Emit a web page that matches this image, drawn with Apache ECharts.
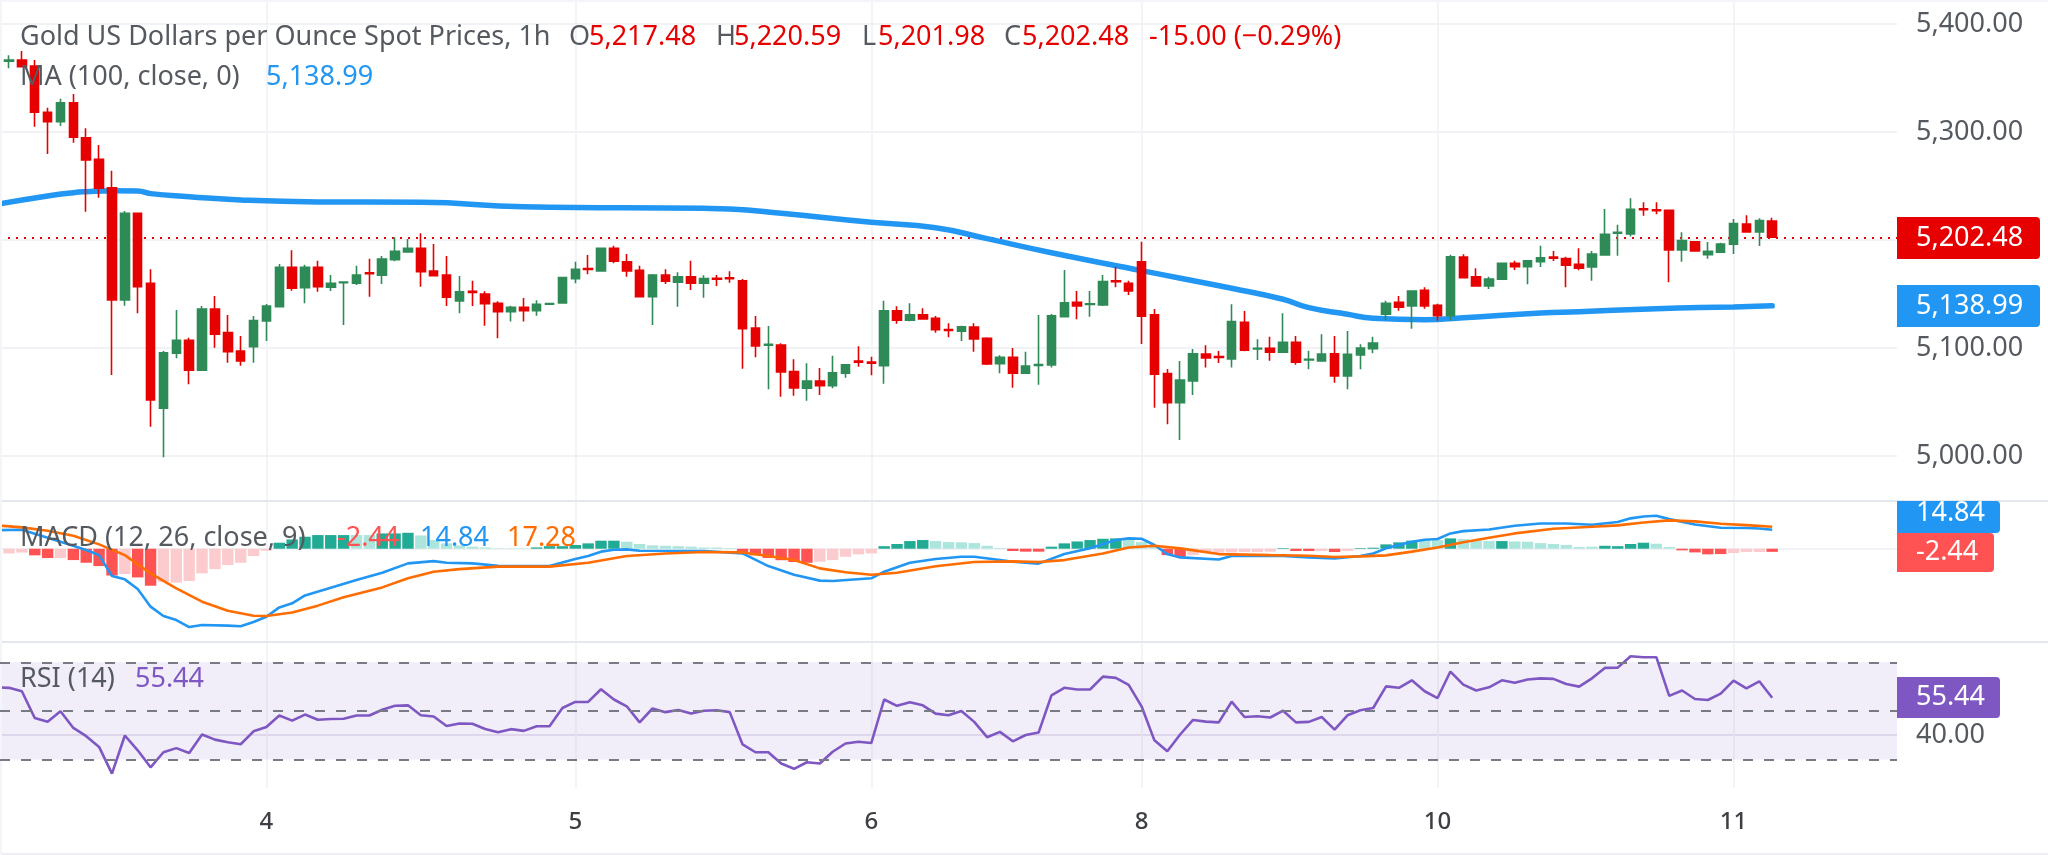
<!DOCTYPE html>
<html>
<head>
<meta charset="utf-8">
<title>Gold 1h</title>
<script src="https://cdn.jsdelivr.net/npm/echarts@6/dist/echarts.min.js"></script>
<style>
html,body{margin:0;padding:0;background:#fff;}
#chart{width:2048px;height:855px;}
</style>
</head>
<body>
<div id="chart"></div>
<script>
// hourly candles
var opens = [5365.5,5366.7,5361.1,5318.2,5309.5,5327.1,5294.7,5274.7,5248.4,5144.4,5224.7,5159.9,5044.2,5095.1,5107.1,5079.3,5136.1,5114.2,5097.2,5101.2,
5125,5138.2,5174.7,5155.8,5174.7,5156.2,5160.5,5159.9,5169.5,5167.3,5181.8,5188.9,5192.3,5171.3,5167.6,5143.5,5152.5,5150,5141.4,5133.6,
5137.7,5134.5,5140.5,5141.7,5164.2,5173.6,5171.3,5192.3,5179.9,5171.9,5147.5,5167.6,5160.8,5166,5159.9,5164.5,5165,5162.3,5118.5,5102.6,
5102.8,5078.1,5062.7,5069.4,5065.1,5076.6,5087.8,5086.9,5083.6,5134.3,5125.6,5130.8,5127.5,5117.1,5115.5,5119.4,5109,5085.5,5091.4,5076.6,
5083.8,5084.3,5129,5142.3,5140.3,5139.8,5162.2,5159.9,5179.9,5130.6,5076.2,5049.4,5069.4,5094.4,5092.1,5089.8,5123.8,5099,5099.7,5096,
5105.3,5088.8,5088,5094.7,5074.1,5093.5,5099.4,5131.2,5142.3,5138.9,5153.4,5139.5,5129.9,5184.3,5166,5157.4,5163.6,5178.4,5175.3,5179.9,
5184.1,5182.7,5177.5,5175,5186.1,5206.2,5205.6,5228.9,5228,5227.5,5190.7,5198.4,5186.4,5188.6,5196,5214.8,5207.4,5217.48];
var closes = [5366.5,5360.5,5318.2,5309.5,5327.1,5295.1,5274.1,5247.9,5144.4,5224.7,5156.8,5051.9,5095.6,5107.1,5079.3,5136.1,5112.7,5096.6,5088,5125.3,
5138.9,5174.7,5155.3,5174.7,5156.8,5159.9,5161.1,5167.6,5168.7,5182.4,5189.5,5192.3,5170.6,5167,5146.9,5151.9,5151.5,5141,5133.6,5137.7,
5134.5,5140.5,5141.2,5165.1,5172.9,5172.6,5192.3,5180.3,5171.3,5147.5,5167.6,5161.8,5166,5159.9,5164.2,5163.7,5164.2,5117.9,5101.9,5103.4,
5077.8,5063,5069.4,5065.1,5077.1,5084.3,5086.8,5086,5134.3,5125.6,5130.8,5126.9,5116.9,5116.2,5119.7,5108.3,5085.2,5091.4,5076.6,5083.3,
5084.6,5129.9,5141.9,5138.9,5141,5161.4,5161.3,5152.8,5129.4,5075.6,5049.4,5070.4,5094.7,5090.7,5091.2,5124.4,5097.9,5099.7,5096,5105.3,
5086.8,5089.4,5094.4,5074.1,5094.2,5100,5104.6,5141.4,5137.7,5152.8,5138.9,5129.9,5184.5,5165.1,5157.4,5163.9,5178.4,5175.3,5180.8,5183.6,
5183.2,5176.6,5173.8,5187,5205.3,5207,5228.4,5228,5227,5190.7,5199.4,5189.8,5189.5,5196.3,5215.1,5207.4,5217.9,5202.48];
var lows = [5359,5360,5304.9,5279.6,5305.6,5290.1,5226.2,5239.2,5075,5139.2,5132.1,5027.1,4998.8,5090.5,5066.4,5079,5100.3,5086.4,5083.6,5086.4,
5106.5,5138,5153,5141.4,5152.1,5152.8,5121.3,5158.3,5147.5,5159.3,5180.3,5188.2,5156.8,5166.9,5138.9,5132.1,5138.9,5120.6,5109,5124.4,
5124.4,5129.9,5140.3,5141.5,5159.9,5168.2,5171,5178.4,5166,5147.2,5121.3,5159.3,5138.2,5153.7,5146.6,5157.4,5160.5,5080.8,5091.4,5061.8,
5054.9,5055.8,5051.2,5056.5,5062.7,5072.5,5082.7,5074.7,5066.9,5122.5,5124.7,5126.6,5114.2,5109.9,5106.5,5096.6,5084.3,5076.6,5063.2,5076.4,
5066,5081.8,5128.4,5126.6,5129,5138.9,5156.2,5149.1,5103.7,5044.7,5029.4,5014.8,5056.5,5081.8,5086.1,5081.8,5097,5088.9,5088.2,5095.7,
5084.5,5080.3,5087.8,5067.9,5061.8,5080.3,5095.1,5125.9,5134.5,5117.9,5136.4,5125.3,5125.3,5164.7,5156.8,5154.6,5163.4,5172.2,5159,5175,
5180.6,5156.2,5171.9,5162.3,5186,5185.5,5203.1,5222.5,5223.8,5160.8,5179.9,5189,5182.7,5188,5187,5207,5194.4,5201.98];
var highs = [5371,5375,5366.7,5322.5,5330.8,5335.2,5303.4,5288,5264.2,5226.9,5225,5172.9,5097.2,5135.2,5109.5,5138.9,5148.1,5130.6,5111.1,5129.6,
5140.7,5177.8,5190.5,5177.1,5180.8,5167.6,5161.4,5176.2,5182.7,5185.2,5202.5,5200.9,5206.2,5196.3,5185.2,5166.7,5162.3,5152.5,5143.2,5139.2,
5146.3,5144.2,5141.5,5165.5,5179.9,5186.1,5192.6,5194.7,5187,5176.2,5168.5,5172.9,5170.1,5180.8,5167.3,5167.6,5171,5163.9,5129.6,5120.4,
5104.3,5089.5,5085.8,5081.5,5092.9,5084.9,5101.6,5091.9,5143.8,5138.6,5141.4,5136.8,5129.6,5122.9,5120.6,5122.9,5109.9,5093.2,5100,5096.6,
5130.6,5131.5,5172.2,5152.8,5152.8,5167.6,5175,5162.3,5198.4,5136.1,5080.6,5088,5099.1,5102.5,5097.2,5140.5,5134.3,5108,5110.5,5132.1,
5111.1,5097.5,5112.7,5111.1,5115.7,5103.4,5110.5,5143.8,5148.1,5153,5156.2,5141,5186.4,5186.8,5173.8,5166,5179,5180.8,5181,5194.7,
5189.8,5184.5,5192.3,5189.8,5228.7,5214.2,5238.6,5234.9,5234.9,5228,5207.1,5199.1,5198.1,5197.5,5219.4,5222.9,5220,5220.59];

// MA(100) readings: bar index and value
var maBars = [-1,3,5,6,8,10,11,14,18,24,32,40,54,56,60,67,72,76,81,88,95,99,101,104,106,110,113,119,122,128,134,137];
var maVals = [5232.9,5240.7,5243.8,5244.7,5245.6,5245.4,5242.9,5240.1,5237,5235.2,5234.9,5230.8,5229.3,5228.7,5224.7,5216.4,5211.4,5201.2,5188.2,5171.6,5155.3,5145.1,5137.3,5131.2,5127.5,5126.2,5128,5132.4,5133.6,5136.4,5138,5138.99];

// MACD histogram, one per bar
var hist = [-3.7,-3,-5.2,-7.3,-7.3,-8.9,-11,-13.6,-21,-19.8,-22.5,-29,-26,-26.6,-25.3,-19.3,-16,-12.8,-11,-5.7,
-1.6,4.7,7.3,9.4,10.7,10.7,10.7,10.7,10.7,12,12,12.5,10.4,6.8,4.2,2.6,1.6,1,0.3,0.3,
0.3,1,2,2,2.9,4.2,6.3,6.3,5.5,3.7,2.6,2.3,2,1.6,1,1,0.5,-3.7,-5.2,-7.3,
-9,-10.4,-11,-10.2,-8.9,-6.3,-4.4,-3.7,2,3.7,6,6.8,6,5.2,5,4.4,2.3,0.5,-1.8,-2.3,
-2.3,1.6,4.2,5.7,6.8,7.8,8.1,6.8,5.2,2.9,-5,-6.3,-5,-3.1,-3.1,-2.9,-2.6,-2.6,-2.3,0.5,
-1.8,-1.8,-1.8,-2.6,-1.8,0.5,0.8,3.4,5,6.3,6.3,6.8,8.1,7.6,6.3,6,6,5.7,5.5,4.4,
3.7,2.9,1.3,1.6,2.3,2,3.7,4.7,3.9,1.3,-1.3,-2.9,-4.4,-4.2,-3.4,-2.6,-2.6,-2.44];
var histStrong = [2,3,5,6,7,8,10,11,21,22,23,24,25,26,29,30,31,41,42,43,44,45,46,47,57,58,59,60,61,62,68,69,70,71,78,79,80,81,82,83,84,85,86,90,91,99,100,101,103,105,106,107,108,109,112,116,124,125,126,127,130,131,132,133,137];

var macdBars = [-1,1,4,6,7,8,9,10,11,12,13,14,15,17,18,19,20,21,22,23,25,27,29,31,33,34,36,38,42,44,45,46,47,48,49,54,57,59,61,63,64,67,68,70,72,74,75,77,78,80,82,84,86,87,88,89,90,91,94,95,99,101,103,105,106,107,109,110,111,112,113,115,117,119,121,123,125,126,127,128,129,131,133,135,136,137];
var macdVals = [14.5,14.9,5.5,-1,-5,-21.4,-24,-31.6,-45.4,-52.7,-55.9,-61.4,-59.8,-60.3,-60.8,-57.4,-53.3,-46,-42.8,-36.6,-30.5,-24.5,-18.8,-11.5,-9.7,-11,-11.5,-13.3,-13.6,-8.1,-5.7,-2.3,-0.8,-0.5,-1.6,-1.8,-3.7,-13.6,-20.4,-25,-25.3,-23.2,-18,-11,-8.1,-6.3,-6.3,-8.9,-10.2,-11.7,-4.2,0.3,6.8,8.1,7.8,2.9,-4.2,-6.8,-8.4,-5.7,-5.7,-6.8,-7.6,-5.7,-3.7,0.3,5.5,7,7.6,12,13.8,15.1,18,19.8,19.8,18.8,20.9,23.8,25.3,25.8,23.2,19,16.4,16.2,15.9,14.84];
var signalBars = [-1,1,3,5,7,9,11,13,15,17,19,20,22,24,26,29,31,33,35,38,42,45,48,51,54,57,59,61,63,65,67,69,72,75,78,80,82,85,87,89,91,94,98,101,103,105,107,109,111,113,115,117,120,123,125,127,129,131,133,135,137];
var signalVals = [18.3,16.7,14.1,10.2,3.4,-5,-19.3,-31,-41.5,-48.6,-52.5,-52.7,-50,-44.6,-38,-30.3,-23.2,-18,-16,-14,-14,-11,-5.7,-3.7,-2.6,-2.9,-5.7,-8.9,-15.4,-18.5,-20.4,-18.8,-13.8,-10.4,-9.9,-10.4,-8.9,-3.7,1,2.3,0.3,-4.2,-5,-5.5,-6.5,-6,-5.2,-2.3,1,5,8.6,12,15.7,17.2,18.3,20.6,22.2,21.4,19.6,18.5,17.28];

// RSI, first value sits one bar left of the first candle
var rsi = [59.7,59.5,58.1,47.1,45.5,49.9,43,39.6,35.2,24.2,39.9,33.8,26.8,33,34.7,32.7,40.3,38.2,37.1,36.3,41.6,
43.4,48.1,46,48.5,46.4,46.7,46.8,48.1,48.1,50.5,52.1,52.3,48.2,47.7,43.8,44.8,44.7,42.6,41.2,42.5,
41.8,43.7,43.7,51.2,53.7,53.7,58.9,54.7,51.9,45.3,51,49.5,50.4,48.9,50.1,50.3,49.5,36.2,33,33,
28.4,26.2,28.9,28.4,33.2,36.6,37.3,36.8,54.7,52.1,53.6,52.3,48.9,48.2,50,45.5,39.2,41.4,37.5,40.1,
41.1,56.4,59.5,58.8,58.8,64.1,63.6,60.7,51.9,37.9,33.4,40.3,46.3,45.6,45.3,53.8,47.5,47.8,47.3,50.1,
45.3,45.5,47.5,42.3,48.2,50.3,51.2,60.1,59.5,62.6,58.1,55.3,66.2,60.8,58.4,59.7,62.6,61.6,62.9,63.4,
63.2,61.1,60,63.4,67.7,67.8,72.5,72.1,72.1,56.2,58.4,54.9,54.5,57.1,62.5,59.3,62.2,55.44];

// date ticks
var dateBars = [20,44,67,88,111,134];
var dateLabels = ['4','5','6','8','10','11'];
var priceTicks = [5000,5100,5200,5300,5400];
var rsiTicks = [40];
var rsiLevels = [70,50,30];

var lastClose = 5202.48;
var lastMa = 5138.99;

var UP = '#2e8b57', DOWN = '#e60000', FONT = '"Noto Sans"', TXT = '#555a60';
var FS = 27;

function money(v){
	return v.toFixed(2).replace(/\B(?=(\d{3})+(?!\d))/g, ',');
}
function pairs(xs, ys){
	return xs.map(function(x, k){ return [x, ys[k]]; });
}

var candleData = opens.map(function(o, i){ return [i, o, closes[i], lows[i], highs[i]]; });
var histData = hist.map(function(v, i){
	var strong = histStrong.indexOf(i) >= 0;
	var c = v >= 0 ? (strong ? '#22ab94' : '#ace5dc') : (strong ? '#ff5252' : '#fccbcd');
	return {value: [i, v], itemStyle: {color: c}};
});

var xMin = -0.7, xMax = 146.7;
var LINE = '#f1f2f5';
function xAxis(idx, labelled){
	return {
		type: 'value', gridIndex: idx, min: xMin, max: xMax,
		axisLine: {show: false},
		axisTick: {show: false, customValues: dateBars},
		splitLine: {show: true, lineStyle: {color: LINE, width: 1.6}},
		axisLabel: labelled ? {
			show: true, customValues: dateBars, margin: 22,
			color: '#3d3f44', fontFamily: FONT, fontSize: 24, fontWeight: 500,
			formatter: function(v){ return dateLabels[dateBars.indexOf(v)]; }
		} : {show: false}
	};
}
function yAxis(idx, min, max, ticks, fmt){
	return {
		type: 'value', gridIndex: idx, position: 'right', min: min, max: max,
		axisLine: {show: false},
		axisTick: {show: false, customValues: ticks},
		splitLine: {show: true, lineStyle: {color: idx == 2 ? '#e9e6f1' : LINE, width: 2}},
		axisLabel: fmt ? {
			show: true, customValues: ticks, margin: 19, align: 'left',
			color: TXT, fontFamily: FONT, fontSize: FS, formatter: fmt
		} : {show: false}
	};
}

var option = {
	animation: false,
	backgroundColor: '#fff',
	grid: [
		{left: 0, top: 0, width: 1897, height: 501},
		{left: 0, top: 501, width: 1897, height: 141},
		{left: 0, top: 642, width: 1897, height: 146}
	],
	xAxis: [xAxis(0), xAxis(1), xAxis(2, true)],
	yAxis: [
		yAxis(0, 4958.3, 5422.2, priceTicks, money),
		yAxis(1, -73.1, 37.4, [0]),
		yAxis(2, 18.3, 78.35, rsiTicks, function(v){ return v.toFixed(2); })
	],
	series: [
		{
			type: 'line', name: 'MA', xAxisIndex: 0, yAxisIndex: 0, z: 2,
			data: pairs(maBars, maVals), smooth: 0.5, showSymbol: false,
			lineStyle: {color: '#2196f3', width: 5.5, cap: 'round'}
		},
		{
			type: 'candlestick', name: 'Gold', xAxisIndex: 0, yAxisIndex: 0, z: 3,
			data: candleData, barWidth: 9,
			itemStyle: {color: UP, color0: DOWN, borderColor: UP, borderColor0: DOWN, borderWidth: 1.6},
			markLine: {
				silent: true, symbol: 'none', animation: false, z: 1,
				lineStyle: {color: DOWN, type: [2, 6], width: 2},
				label: {show: false},
				data: [{yAxis: lastClose}]
			}
		},
		{
			type: 'bar', name: 'Histogram', xAxisIndex: 1, yAxisIndex: 1, z: 2,
			data: histData, barWidth: 11.4
		},
		{
			type: 'line', name: 'MACD', xAxisIndex: 1, yAxisIndex: 1, z: 3,
			data: pairs(macdBars, macdVals), showSymbol: false,
			lineStyle: {color: '#2196f3', width: 2.6}
		},
		{
			type: 'line', name: 'Signal', xAxisIndex: 1, yAxisIndex: 1, z: 4,
			data: pairs(signalBars, signalVals), showSymbol: false,
			lineStyle: {color: '#ff6d00', width: 2.6}
		},
		{
			type: 'line', name: 'RSI', xAxisIndex: 2, yAxisIndex: 2, z: 3,
			data: rsi.map(function(v, k){ return [k - 1, v]; }), showSymbol: false,
			lineStyle: {color: '#7e57c2', width: 2.6},
			markArea: {
				silent: true,
				itemStyle: {color: 'rgba(126,87,194,0.1)'},
				data: [[{yAxis: rsiLevels[2]}, {yAxis: rsiLevels[0]}]]
			},
			markLine: {
				silent: true, symbol: 'none', animation: false,
				lineStyle: {color: '#787b86', type: [10, 11], width: 2},
				label: {show: false},
				data: rsiLevels.map(function(v){ return {yAxis: v}; })
			}
		}
	]
};

// legend texts on the panes: text, colour, left, middle
var heads = [
	['Gold US Dollars per Ounce Spot Prices, 1h', TXT, 20, 37],
	['O', TXT, 569, 37], ['5,217.48', DOWN, 589, 37],
	['H', TXT, 716, 37], ['5,220.59', DOWN, 734, 37],
	['L', TXT, 862, 37], ['5,201.98', DOWN, 878, 37],
	['C', TXT, 1004, 37], ['5,202.48', DOWN, 1022, 37],
	['-15.00 (\u22120.29%)', DOWN, 1149, 37],
	['MA (100, close, 0)', TXT, 20, 77], ['5,138.99', '#2196f3', 266, 77],
	['MACD (12, 26, close, 9)', TXT, 20, 538], ['-2.44', '#ff5252', 337, 538],
	['14.84', '#2196f3', 420, 538], ['17.28', '#ff6d00', 507, 538],
	['RSI (14)', TXT, 20, 679], ['55.44', '#7e57c2', 135, 679]
];
// value tags in the right scale: text, colour, top, bottom, width, text middle
var tags = [
	[money(lastClose), DOWN, 217, 259, 143, 238],
	[money(lastMa), '#2196f3', 285, 327, 143, 306],
	['14.84', '#2196f3', 501, 533, 103, 513],
	['-2.44', '#ff5252', 533, 572, 97, 552],
	['55.44', '#7e57c2', 677, 718, 103, 697]
];
var gfx = [];
// pane borders
[[501, '#e4e7ee'], [642, '#e4e7ee'], [854, '#eceef2'], [1, '#f4f5f8']].forEach(function(p){
	gfx.push({type: 'line', silent: true, z: 5, shape: {x1: 0, y1: p[0], x2: 2048, y2: p[0]}, style: {stroke: p[1], lineWidth: 2}});
});
gfx.push({type: 'line', silent: true, z: 5, shape: {x1: 1, y1: 0, x2: 1, y2: 855}, style: {stroke: '#f4f5f8', lineWidth: 2}});
heads.forEach(function(h){
	gfx.push({type: 'text', silent: true, z: 20, x: h[2], y: h[3],
		style: {text: h[0], fill: h[1], font: FS + 'px ' + FONT, textVerticalAlign: 'middle'}});
});
tags.forEach(function(t){
	gfx.push({type: 'rect', silent: true, z: 20, shape: {x: 1897, y: t[2], width: t[4], height: t[3] - t[2], r: [0, 4, 4, 0]}, style: {fill: t[1]}});
	gfx.push({type: 'text', silent: true, z: 21, x: 1916, y: t[5],
		style: {text: t[0], fill: '#fff', font: FS + 'px ' + FONT, textVerticalAlign: 'middle'}});
});
option.graphic = gfx;

var myChart = echarts.init(document.getElementById('chart'));
myChart.setOption(option);
</script>
</body>
</html>
